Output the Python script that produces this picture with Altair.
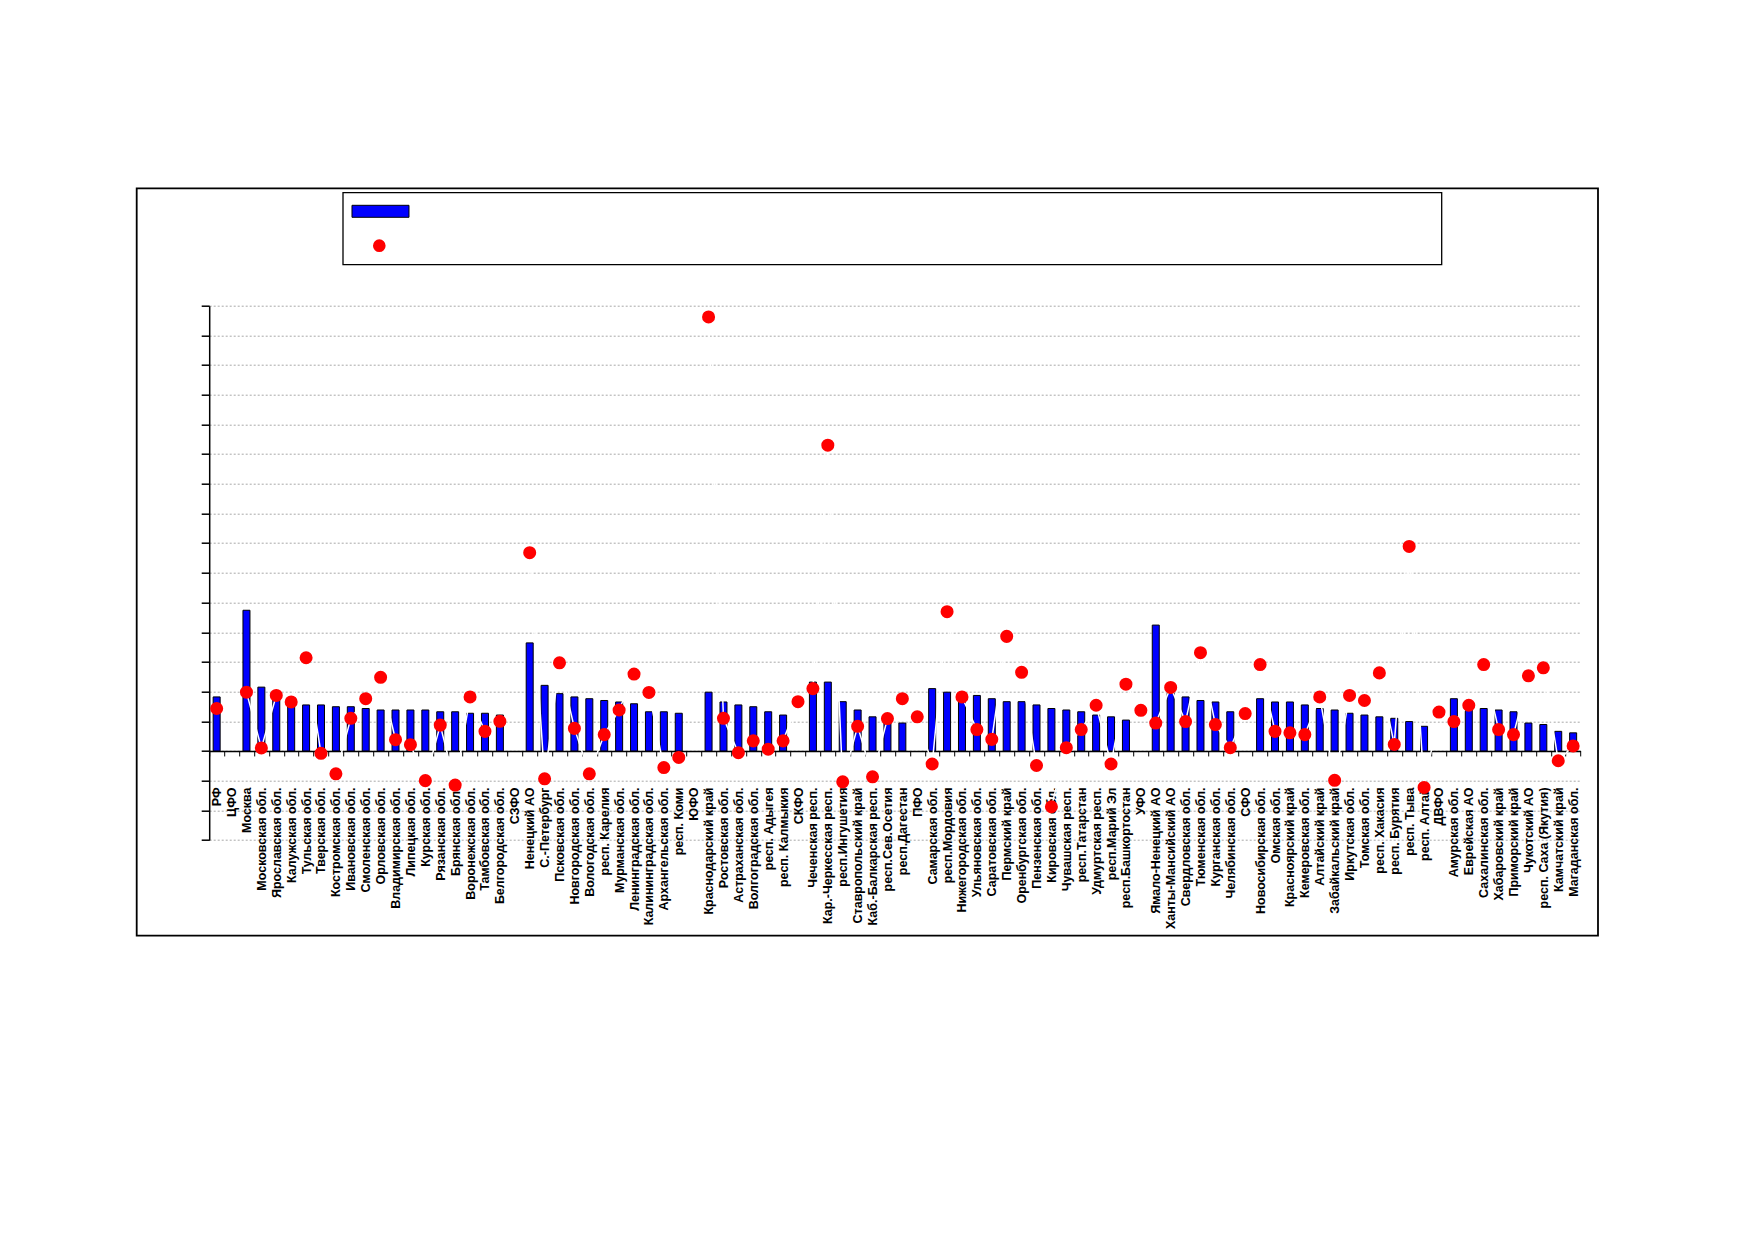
import altair as alt
import pandas as pd

regions = [
    "РФ", "ЦФО", "Москва", "Московская обл.", "Ярославская обл.", "Калужская обл.",
    "Тульская обл.", "Тверская обл.", "Костромская обл.", "Ивановская обл.",
    "Смоленская обл.", "Орловская обл.", "Владимирская обл.", "Липецкая обл.",
    "Курская обл.", "Рязанская обл.", "Брянская обл.", "Воронежская обл.",
    "Тамбовская обл.", "Белгородская обл.", "СЗФО", "Ненецкий АО", "С.-Петербург",
    "Псковская обл.", "Новгородская обл.", "Вологодская обл.", "респ. Карелия",
    "Мурманская обл.", "Ленинградская обл.", "Калининградская обл.",
    "Архангельская обл.", "респ. Коми", "ЮФО", "Краснодарский край",
    "Ростовская обл.", "Астраханская обл.", "Волгоградская обл.", "респ. Адыгея",
    "респ. Калмыкия", "СКФО", "Чеченская респ.", "Кар.-Черкесская респ.",
    "респ.Ингушетия", "Ставропольский край", "Каб.-Балкарская респ.",
    "респ.Сев.Осетия", "респ.Дагестан", "ПФО", "Самарская обл.", "респ.Мордовия",
    "Нижегородская обл.", "Ульяновская обл.", "Саратовская обл.", "Пермский край",
    "Оренбургская обл.", "Пензенская обл.", "Кировская обл.", "Чувашская респ.",
    "респ.Татарстан", "Удмуртская респ.", "респ.Марий Эл", "респ.Башкортостан",
    "УФО", "Ямало-Ненецкий АО", "Ханты-Мансийский АО", "Свердловская обл.",
    "Тюменская обл.", "Курганская обл.", "Челябинская обл.", "СФО",
    "Новосибирская обл.", "Омская обл.", "Красноярский край", "Кемеровская обл.",
    "Алтайский край", "Забайкальский край", "Иркутская обл.", "Томская обл.",
    "респ. Хакасия", "респ. Бурятия", "респ. Тыва", "респ. Алтай", "ДВФО",
    "Амурская обл.", "Еврейская АО", "Сахалинская обл.", "Хабаровский край",
    "Приморский край", "Чукотский АО", "респ. Саха (Якутия)", "Камчатский край",
    "Магаданская обл.",
]

bar_values = [
    1.82, None, 4.74, 2.15, 1.74, 1.60, 1.55, 1.55, 1.49, 1.49,
    1.43, 1.38, 1.38, 1.38, 1.38, 1.32, 1.32, 1.27, 1.27, 1.21,
    None, 3.64, 2.21, 1.93, 1.82, 1.76, 1.70, 1.65, 1.59, 1.32,
    1.32, 1.27, None, 1.98, 1.65, 1.55, 1.49, 1.32, 1.21, None,
    2.32, 2.32, 1.66, 1.38, 1.15, 1.12, 0.94, None, 2.10, 1.98,
    1.90, 1.87, 1.76, 1.66, 1.66, 1.55, 1.43, 1.38, 1.32, 1.21,
    1.15, 1.04, None, 4.24, 1.95, 1.82, 1.70, 1.65, 1.32, None,
    1.76, 1.65, 1.65, 1.55, 1.43, 1.38, 1.27, 1.21, 1.15, 1.10,
    0.99, 0.83, None, 1.76, 1.45, 1.43, 1.38, 1.32, 0.94, 0.89,
    0.66, 0.61,
]

dot_values = [
    1.43, None, 1.98, 0.10, 1.87, 1.65, 3.14, -0.08, -0.77, 1.10,
    1.76, 2.48, 0.38, 0.21, -1.00, 0.87, -1.15, 1.82, 0.66, 1.00,
    None, 6.68, -0.94, 2.97, 0.76, -0.77, 0.55, 1.38, 2.59, 1.97,
    -0.56, -0.22, None, 14.62, 1.10, -0.06, 0.34, 0.06, 0.34, 1.66,
    2.10, 10.30, -1.04, 0.83, -0.87, 1.09, 1.76, 1.15, -0.44, 4.69,
    1.82, 0.72, 0.39, 3.86, 2.65, -0.49, -1.88, 0.11, 0.72, 1.54,
    -0.44, 2.25, 1.37, 0.94, 2.14, 0.99, 3.31, 0.89, 0.11, 1.26,
    2.91, 0.66, 0.61, 0.55, 1.82, -0.99, 1.87, 1.70, 2.63, 0.22,
    6.89, -1.23, 1.31, 0.99, 1.54, 2.91, 0.72, 0.55, 2.53, 2.80,
    -0.33, 0.17,
]

y_ticks = list(range(-3, 16))

df = pd.DataFrame({"region": regions, "bar": bar_values, "dot": dot_values})

W = 1371.4
H = 534.3
Y_MIN, Y_MAX = -3, 15
zero_from_bottom = H * (0 - Y_MIN) / (Y_MAX - Y_MIN)

FONT = "Liberation Sans"

x_axis = alt.Axis(
    title=None,
    orient="bottom",
    offset=-zero_from_bottom,
    labelAngle=270,
    labelAlign="right",
    labelBaseline="middle",
    labelFont=FONT,
    labelFontSize=12.5,
    labelFontWeight="bold",
    labelColor="black",
    labelPadding=31,
    labelOverlap=False,
    labelLimit=400,
    tickBand="extent",
    tickSize=5,
    tickColor="black",
    tickWidth=1,
    domainColor="black",
    domainWidth=1.5,
    grid=False,
)
x_scale = alt.Scale(paddingInner=0, paddingOuter=0)

y_scale = alt.Scale(domain=[Y_MIN, Y_MAX], nice=False, zero=False)
y_axis = alt.Axis(
    title=None,
    labels=False,
    values=y_ticks,
    tickCount=len(y_ticks),
    tickSize=8,
    tickColor="black",
    tickWidth=1.5,
    domainColor="black",
    domainWidth=1.5,
    grid=True,
    gridColor="#a8a8a8",
    gridDash=[2, 2],
    gridWidth=1,
)


def xe():
    return alt.X("region:N", sort=regions, scale=x_scale, axis=x_axis)


base = alt.Chart(df)

bars = base.mark_bar(color="#0000FF", stroke="black", strokeWidth=1, size=7).encode(
    x=xe(),
    y=alt.Y("bar:Q", scale=y_scale, axis=y_axis),
)

line = base.mark_line(color="white", strokeWidth=1.5).encode(
    x=xe(),
    y=alt.Y("dot:Q", scale=y_scale, axis=y_axis),
)

dots = base.mark_circle(color="#FF0000", size=170, opacity=1).encode(
    x=xe(),
    y=alt.Y("dot:Q", scale=y_scale, axis=y_axis),
)

deco = pd.DataFrame({"k": [0]})

frame = alt.Chart(deco).mark_rect(fillOpacity=0, stroke="black", strokeWidth=1.8).encode(
    x=alt.value(-72.5), x2=alt.value(1388.8), y=alt.value(-117.4), y2=alt.value(630)
)

legend_box = alt.Chart(deco).mark_rect(fill="white", stroke="black", strokeWidth=1.3).encode(
    x=alt.value(133.8), x2=alt.value(1232.5), y=alt.value(-113), y2=alt.value(-41)
)

legend_bar = alt.Chart(deco).mark_rect(fill="#0000FF", stroke="black", strokeWidth=1).encode(
    x=alt.value(142.8), x2=alt.value(199.8), y=alt.value(-100.4), y2=alt.value(-88.4)
)

legend_dot = alt.Chart(deco).mark_circle(color="#FF0000", size=160, opacity=1).encode(
    x=alt.value(170.1), y=alt.value(-60)
)

chart = alt.layer(
    frame, legend_box, legend_bar, legend_dot, bars, line, dots
).properties(
    width=W,
    height=H,
    autosize=alt.AutoSizeParams(type="none"),
    padding={"left": 201.2, "top": 297.7, "right": 40, "bottom": 140},
    background="white",
).configure_view(strokeWidth=0)

chart.save("out.html", embed_options={"renderer": "svg", "actions": False})
